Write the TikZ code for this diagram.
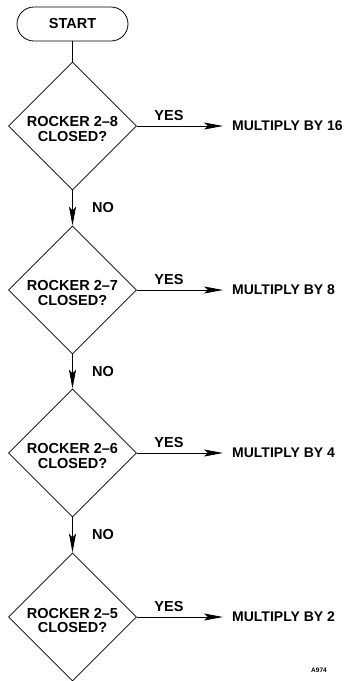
\documentclass[tikz,border=0pt]{standalone}
\usepackage{fontspec}
\setmainfont{Liberation Sans}
\usetikzlibrary{shapes.geometric,arrows.meta}
\begin{document}
\begin{tikzpicture}[x=1pt,y=-1pt,
  every node/.style={font=\fontsize{14.5}{16}\selectfont\bfseries},
  startbox/.style={draw,line width=0.8pt,rounded corners=17pt,minimum width=111pt,minimum height=34pt,inner sep=0pt},
  decision/.style={draw,line width=0.8pt,diamond,aspect=1,minimum width=128pt,minimum height=128pt,inner sep=0pt},
  dtext/.style={inner sep=0pt,align=center,font=\fontsize{14.5}{15}\selectfont\bfseries},
  lab/.style={inner sep=0pt},
  result/.style={inner sep=0pt,anchor=west,font=\fontsize{14}{15}\selectfont\bfseries},
  flow/.style={line width=0.8pt,-{Stealth[length=19pt,width=7pt,inset=4pt]}},
  plain/.style={line width=0.8pt}]
\useasboundingbox (0,0) rectangle (349,681);
\node[startbox] (start) at (72.5,24) {START};
\node[decision] (d1) at (72.5,126) {};
\node[decision] (d2) at (72.5,290) {};
\node[decision] (d3) at (72.5,453) {};
\node[decision] (d4) at (72.5,617) {};
\node[dtext] (t1) at ([yshift=-3.5pt]d1.center) {ROCKER 2--8\\CLOSED?};
\node[dtext] (t2) at ([yshift=-3.5pt]d2.center) {ROCKER 2--7\\CLOSED?};
\node[dtext] (t3) at ([yshift=-3.5pt]d3.center) {ROCKER 2--6\\CLOSED?};
\node[dtext] (t4) at ([yshift=-3.5pt]d4.center) {ROCKER 2--5\\CLOSED?};
\node[result] (m1) at (232,126) {MULTIPLY BY 16};
\node[result] (m2) at (232,290) {MULTIPLY BY 8};
\node[result] (m3) at (232,453) {MULTIPLY BY 4};
\node[result] (m4) at (232,617) {MULTIPLY BY 2};
\foreach \i/\y in {1/126,2/290,3/453,4/617}{
  \coordinate (e\i) at (223,\y);
  \draw[flow] (d\i.east) -- (e\i);
  \node[lab] (yes\i) at (169,\y-10) {YES};
}
\draw[plain] (start.south) -- (d1.north);
\draw[flow] (d1.south) -- (d2.north);
\draw[flow] (d2.south) -- (d3.north);
\draw[flow] (d3.south) -- (d4.north);
\node[lab,anchor=west] (no1) at (92,208) {NO};
\node[lab,anchor=west] (no2) at (92,372) {NO};
\node[lab,anchor=west] (no3) at (92,535) {NO};
\node[lab,font=\fontsize{6.5}{8}\selectfont\bfseries] (tag) at (319,670) {A974};
\end{tikzpicture}
\end{document}
